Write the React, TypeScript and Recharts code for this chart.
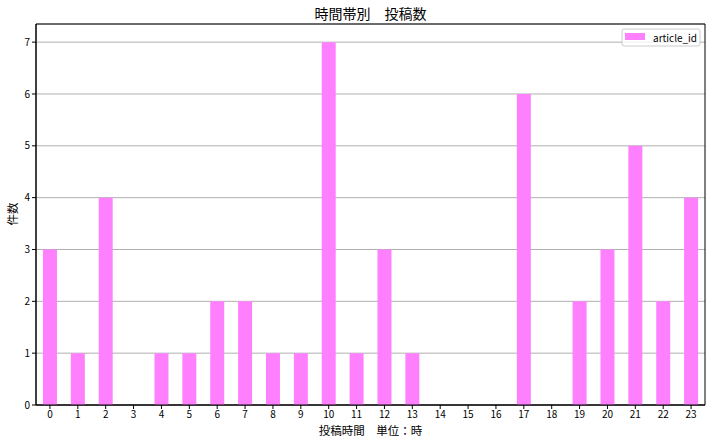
import React from 'react';
import { BarChart, Bar, XAxis, YAxis, CartesianGrid, ReferenceArea, Customized } from 'recharts';

const hours: string[] = ['0','1','2','3','4','5','6','7','8','9','10','11','12','13','14','15','16','17','18','19','20','21','22','23'];
const counts: number[] = [3,1,4,0,1,1,2,2,1,1,7,1,3,1,0,0,0,6,0,2,3,5,2,4];
const yTicks: number[] = [0,1,2,3,4,5,6,7];
const title = '時間帯別　投稿数';
const xLabel = '投稿時間　単位：時';
const yLabel = '件数';
const seriesName = 'article_id';

const data = hours.map((h, i) => ({ hour: h, article_id: counts[i] }));

const FONT = '"Noto Sans CJK JP", "DejaVu Sans", sans-serif';
const BAR = '#ff80ff';

const Overlay = () => (
  <g fontFamily={FONT}>
    <text x={370.5} y={13} textAnchor="middle" dominantBaseline="central" fontSize={14} fill="#000">{title}</text>
    <text x={370.5} y={430} textAnchor="middle" dominantBaseline="central" fontSize={11.5} fill="#000">{xLabel}</text>
    <text x={12} y={214} textAnchor="middle" dominantBaseline="central" fontSize={11.5} fill="#000" transform="rotate(-90 12 214)">{yLabel}</text>
    <rect x={622} y={29} width={78} height={17} rx={2} fill="#fff" fillOpacity={0.8} stroke="#cccccc" />
    <rect x={625} y={33} width={20} height={7} fill={BAR} />
    <text x={653} y={37.5} dominantBaseline="central" fontSize={10} fill="#000">{seriesName}</text>
  </g>
);

export default function App() {
  return (
    <div style={{ position: 'absolute', left: 0, top: 0 }}>
      <BarChart width={715} height={443} data={data} margin={{ top: 24, right: 10, left: 0, bottom: 0 }} barCategoryGap="25%">
        <CartesianGrid horizontal vertical={false} stroke="#b0b0b0" />
        <XAxis
          dataKey="hour"
          height={38}
          stroke="#000"
          tickLine={{ stroke: '#000' }}
          tickSize={4}
          tick={{ fontSize: 10, fill: '#000', fontFamily: FONT }}
          interval={0}
        />
        <YAxis
          width={36}
          domain={[0, 7.35]}
          ticks={yTicks}
          stroke="#000"
          tickSize={4}
          tick={{ fontSize: 10, fill: '#000', fontFamily: FONT }}
          allowDataOverflow
        />
        <Bar dataKey="article_id" fill={BAR} isAnimationActive={false} />
        <ReferenceArea y1={0} y2={7.35} fill="none" stroke="#000" strokeWidth={1} ifOverflow="visible" />
        <Customized component={Overlay} />
      </BarChart>
    </div>
  );
}
